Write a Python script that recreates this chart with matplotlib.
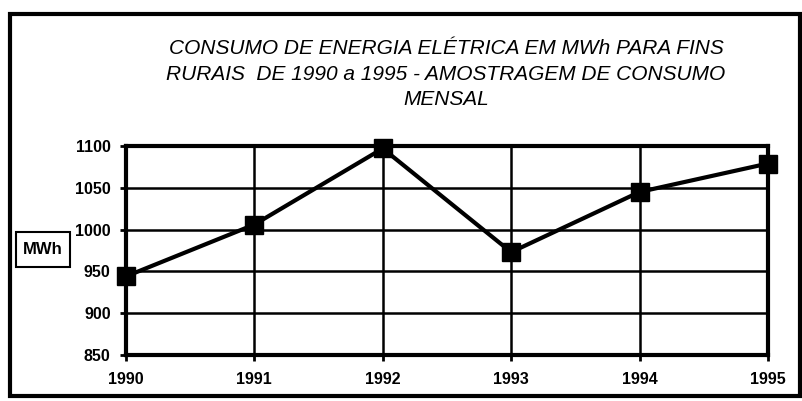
import numpy as np
import matplotlib
matplotlib.use('Agg')
import matplotlib.pyplot as plt
from matplotlib.patches import Rectangle

# dados (MWh por ano)
anos = [1990, 1991, 1992, 1993, 1994, 1995]
consumo = [944, 1006, 1097, 973, 1045, 1079]
yticks = [850, 900, 950, 1000, 1050, 1100]
titulo = ('CONSUMO DE ENERGIA ELÉTRICA EM MWh PARA FINS\n'
          'RURAIS  DE 1990 a 1995 - AMOSTRAGEM DE CONSUMO\n'
          'MENSAL')

plt.rcParams['font.family'] = ['Liberation Sans', 'DejaVu Sans']

fig = plt.figure(figsize=(8.02, 4.01), dpi=100)
ax = fig.add_axes([0.157, 0.1147, 0.8006, 0.5213])

ax.plot(anos, consumo, color='black', lw=3, marker='s', ms=13,
        markerfacecolor='black', markeredgecolor='black', zorder=3,
        clip_on=False)

ax.set_xlim(anos[0], anos[-1])
ax.set_ylim(yticks[0], yticks[-1])
ax.set_xticks(anos)
ax.set_yticks(yticks)
ax.grid(True, color='black', lw=1.8)
for s in ax.spines.values():
    s.set_linewidth(3)
ax.tick_params(axis='both', length=4, width=2, labelsize=11.5)
for lb in ax.get_xticklabels() + ax.get_yticklabels():
    lb.set_fontweight('bold')
ax.tick_params(axis='y', pad=7)
ax.tick_params(axis='x', pad=8)

fig.text(0.556, 0.815, titulo, ha='center', va='center', ma='center',
         fontsize=15, style='italic', linespacing=1.45)

# caixa da unidade
fig.patches.append(Rectangle((0.02, 0.334), 0.0673, 0.0874,
                             transform=fig.transFigure, fill=False,
                             edgecolor='black', lw=1.5))
fig.text(0.0536, 0.378, 'MWh', ha='center', va='center', fontsize=12,
         fontweight='bold')

# moldura externa
fig.patches.append(Rectangle((0.0125, 0.0125), 0.985, 0.952,
                             transform=fig.transFigure, fill=False,
                             edgecolor='black', lw=3))

fig.savefig('out.png', dpi=100)
